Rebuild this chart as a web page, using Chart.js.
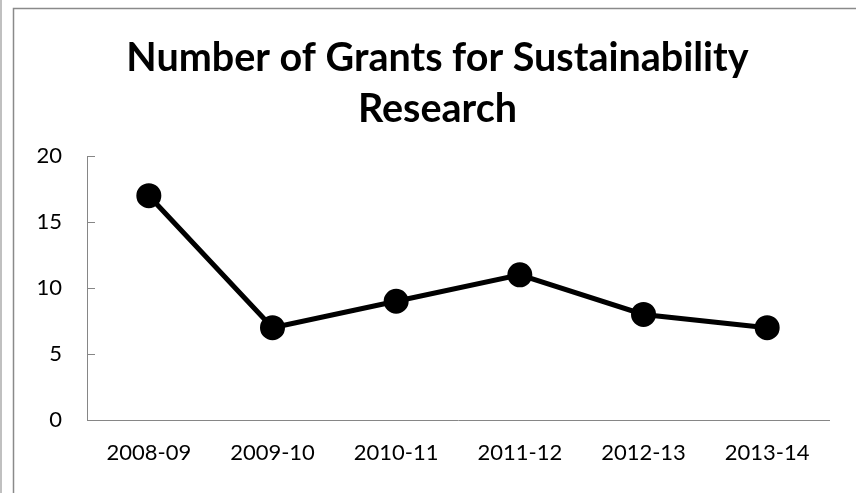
<!DOCTYPE html>
<html lang="en">
<head>
    <meta charset="UTF-8">
    <title>Number of Grants for Sustainability Research</title>
    <script src="https://cdn.jsdelivr.net/npm/chart.js"></script>
    <style>
        html, body { margin: 0; padding: 0; background: #fff; }
        #wrap { position: relative; width: 856px; height: 493px; }
    </style>
</head>
<body>
    <div id="wrap"><canvas id="grantsChart"></canvas></div>

    <script>
        const years = ['2008-09', '2009-10', '2010-11', '2011-12', '2012-13', '2013-14'];
        const grants = [17, 7, 9, 11, 8, 7];
        const yTicks = [0, 5, 10, 15, 20];

        const axisColor = '#868686';
        const fontFamily = 'Lato, "Open Sans", sans-serif';

        // outer frame lines and the short inward tick marks on the value axis
        const framePlugin = {
            id: 'frame',
            beforeDraw(chart) {
                const ctx = chart.ctx;
                ctx.save();
                ctx.strokeStyle = '#c0c0c0';
                ctx.lineWidth = 2;
                ctx.beginPath();
                ctx.moveTo(1, 0);
                ctx.lineTo(1, chart.height);
                ctx.stroke();
                ctx.strokeStyle = '#8a8a8a';
                ctx.lineWidth = 1.5;
                ctx.beginPath();
                ctx.moveTo(13.5, chart.height);
                ctx.lineTo(13.5, 8.5);
                ctx.lineTo(chart.width, 8.5);
                ctx.stroke();
                ctx.restore();
            },
            beforeDatasetsDraw(chart) {
                const ctx = chart.ctx;
                const y = chart.scales.y;
                ctx.save();
                ctx.strokeStyle = axisColor;
                ctx.lineWidth = 1;
                yTicks.forEach(v => {
                    const py = Math.round(y.getPixelForValue(v)) + 0.5;
                    ctx.beginPath();
                    ctx.moveTo(y.right, py);
                    ctx.lineTo(y.right + 8, py);
                    ctx.stroke();
                });
                ctx.restore();
            }
        };

        new Chart(document.getElementById('grantsChart'), {
            type: 'line',
            data: {
                labels: years,
                datasets: [{
                    data: grants,
                    borderColor: '#000',
                    backgroundColor: '#000',
                    borderWidth: 5,
                    pointRadius: 10,
                    pointHoverRadius: 10,
                    pointBackgroundColor: '#000',
                    pointBorderColor: '#000',
                    tension: 0
                }]
            },
            options: {
                responsive: true,
                maintainAspectRatio: false,
                animation: false,
                layout: { padding: { left: 19, right: 0, top: 0, bottom: 0 } },
                plugins: {
                    legend: { display: false },
                    tooltip: { enabled: false },
                    title: {
                        display: true,
                        text: ['Number of Grants for Sustainability', 'Research'],
                        color: '#000',
                        font: { family: fontFamily, size: 39.5, weight: 'bold', lineHeight: 1.28 },
                        padding: { top: 33, bottom: 22 }
                    }
                },
                scales: {
                    x: {
                        offset: true,
                        grid: { display: true, drawOnChartArea: false, drawTicks: false },
                        border: { display: true, color: axisColor, width: 1 },
                        ticks: {
                            color: '#000',
                            padding: 20,
                            maxRotation: 0,
                            font: { family: fontFamily, size: 22 }
                        },
                        afterFit(scale) { scale.height = 73; }
                    },
                    y: {
                        min: 0,
                        max: 20,
                        grid: { display: true, drawOnChartArea: false, drawTicks: false },
                        border: { display: true, color: axisColor, width: 1 },
                        ticks: {
                            stepSize: 5,
                            color: '#000',
                            padding: 25,
                            font: { family: fontFamily, size: 22 }
                        },
                        afterFit(scale) { scale.width = 68; }
                    },
                    // empty spacer on the right so the plot ends short of the edge
                    spacer: {
                        type: 'linear',
                        position: 'right',
                        min: 0,
                        max: 20,
                        grid: { display: false },
                        border: { display: false },
                        ticks: { display: false },
                        afterFit(scale) { scale.width = 27; }
                    }
                }
            },
            plugins: [framePlugin]
        });
    </script>
</body>
</html>
